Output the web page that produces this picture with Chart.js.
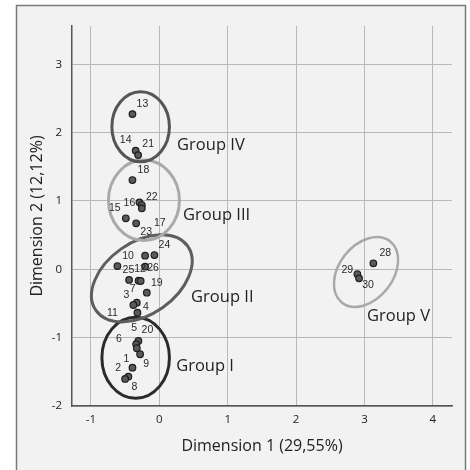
<!DOCTYPE html>
<html><head><meta charset="utf-8">
<script src="https://cdn.jsdelivr.net/npm/chart.js@4"></script>
<style>html,body{margin:0;padding:0;background:#fff}canvas{display:block}</style>
</head><body>
<canvas id="c" width="470" height="470"></canvas>
<script>
// ---- data ----
const pointIds = ['13','14','21','18','16','22','17','15','23','10','24','25','26','12','27','7','19','4','3','11','20','5','6','9','1','8','2','28','29','30'];
const dim1 = [-0.393,-0.346,-0.310,-0.393,-0.291,-0.256,-0.256,-0.490,-0.339,-0.208,-0.072,-0.613,-0.208,-0.442,-0.303,-0.273,-0.183,-0.329,-0.379,-0.320,-0.306,-0.339,-0.329,-0.281,-0.393,-0.452,-0.500,3.130,2.896,2.921];
const dim2 = [2.271,1.737,1.671,1.306,0.980,0.940,0.892,0.746,0.673,0.199,0.209,0.048,0.038,-0.156,-0.167,-0.171,-0.342,-0.488,-0.522,-0.635,-1.048,-1.096,-1.155,-1.243,-1.439,-1.570,-1.604,0.088,-0.069,-0.132];
const xTickValues = [-1,0,1,2,3,4];
const yTickValues = [-2,-1,0,1,2,3];
const xTitle = 'Dimension 1 (29,55%)';
const yTitle = 'Dimension 2 (12,12%)';
// groups (ellipses in data units)
const groupNames = ['Group I','Group II','Group III','Group IV','Group V'];
const groupCx = [-0.346,-0.256,-0.225,-0.273,3.023];
const groupCy = [-1.294,-0.132,1.009,2.085,-0.039];
const groupRx = [0.494,0.819,0.519,0.421,0.570];
const groupRy = [0.592,0.526,0.589,0.512,0.395];
const groupRot = [0,35,0,0,52];
const groupLabelX = [0.246,0.465,0.348,0.260,3.038];
const groupLabelY = [-1.414,-0.405,0.794,1.817,-0.683];

// ---- styles ----
const ellipseStyle = [
  {color:'#2b2b2b', width:3},
  {color:'#5e5e5e', width:3},
  {color:'#a9a9a9', width:3},
  {color:'#555555', width:3},
  {color:'#a9a9a9', width:2.5}
];
const labelOffsets = {
  '13':[10,-10],'14':[-10,-10],'21':[10,-11],'18':[11,-10],'16':[-10,1],'22':[10,-8],'17':[18,15],
  '15':[-11,-10],'23':[10,9],'10':[-17,0],'24':[10,-10],'25':[11,4],'26':[8,1],'12':[11,-11],
  '7':[-8,8],'19':[10,-10],'4':[9,4],'3':[-7,-10],'11':[-25,0],'20':[9,-11],'5':[-2,-16],
  '6':[-18,-9],'9':[6,10],'1':[-6,-9],'2':[-7,-11],'8':[6,10],'28':[12,-10],'29':[-10,-4],'30':[9,7]
};
const FONT = '"Open Sans", "DejaVu Sans", sans-serif';

const framePlugin = {
  id:'frame',
  beforeDraw(chart){
    const ctx = chart.ctx;
    ctx.save();
    ctx.fillStyle = '#ffffff';
    ctx.fillRect(0,0,chart.width,chart.height);
    ctx.fillStyle = '#f2f2f2';
    ctx.fillRect(16,5,450,470);
    ctx.strokeStyle = '#7a7a7a';
    ctx.lineWidth = 1.5;
    ctx.strokeRect(16.5,5.5,449,470);
    ctx.restore();
  }
};

const groupPlugin = {
  id:'groups',
  beforeDatasetsDraw(chart){
    const {ctx, scales:{x,y}} = chart;
    ctx.save();
    for (let i=0;i<groupNames.length;i++){
      const cx = x.getPixelForValue(groupCx[i]);
      const cy = y.getPixelForValue(groupCy[i]);
      const rx = x.getPixelForValue(groupCx[i]+groupRx[i]) - cx;
      const ry = cy - y.getPixelForValue(groupCy[i]+groupRy[i]);
      ctx.beginPath();
      ctx.ellipse(cx,cy,rx,ry,-groupRot[i]*Math.PI/180,0,Math.PI*2);
      ctx.strokeStyle = ellipseStyle[i].color;
      ctx.lineWidth = ellipseStyle[i].width;
      ctx.stroke();
    }
    ctx.restore();
  },
  afterDatasetsDraw(chart){
    const {ctx, scales:{x,y}} = chart;
    ctx.save();
    ctx.font = '10.5px "Liberation Sans", Arial, sans-serif';
    ctx.fillStyle = '#2a2a2a';
    ctx.textAlign = 'center';
    ctx.textBaseline = 'middle';
    const meta = chart.getDatasetMeta(0);
    meta.data.forEach((el,i)=>{
      const id = pointIds[i];
      const off = labelOffsets[id];
      if (!off) return;
      ctx.fillText(id, el.x+off[0], el.y+off[1]);
    });
    ctx.font = '16.5px ' + FONT;
    ctx.fillStyle = '#222';
    ctx.textAlign = 'left';
    for (let i=0;i<groupNames.length;i++){
      ctx.fillText(groupNames[i], x.getPixelForValue(groupLabelX[i]), y.getPixelForValue(groupLabelY[i]));
    }
    ctx.restore();
  }
};

const gridCommon = {color:'#b8b8b8', lineWidth:1, drawTicks:false, tickLength:0};

new Chart(document.getElementById('c'), {
  type:'scatter',
  data:{
    datasets:[{
      data: dim1.map((v,i)=>({x:v, y:dim2[i]})),
      pointRadius:3.3,
      pointHoverRadius:3.3,
      backgroundColor:'#5a5a5a',
      borderColor:'#1e1e1e',
      borderWidth:1.2
    }]
  },
  options:{
    responsive:false,
    animation:false,
    devicePixelRatio:1,
    layout:{padding:{top:26,right:18,left:0,bottom:0}},
    plugins:{legend:{display:false}, tooltip:{enabled:false}},
    scales:{
      x:{
        type:'linear', min:-1.277, max:4.28,
        afterBuildTicks(s){ s.ticks = xTickValues.map(v=>({value:v})); },
        afterFit(s){ s.height = 64; },
        grid:{...gridCommon},
        border:{color:'#555', width:1.5},
        ticks:{padding:7, color:'#222', font:{family:FONT, size:11.5}},
        title:{display:true, text:xTitle, color:'#222', font:{family:FONT, size:16}, padding:{top:0,bottom:14.4}}
      },
      y:{
        type:'linear', min:-2, max:3.56,
        afterBuildTicks(s){ s.ticks = yTickValues.map(v=>({value:v})); },
        afterFit(s){ s.width = 72; },
        grid:{...gridCommon},
        border:{color:'#555', width:1.5},
        ticks:{padding:10, color:'#222', font:{family:FONT, size:11.5}},
        title:{display:true, text:yTitle, color:'#222', font:{family:FONT, size:16}, padding:{top:27.4,bottom:0}}
      }
    }
  },
  plugins:[framePlugin, groupPlugin]
});
</script>
</body></html>
